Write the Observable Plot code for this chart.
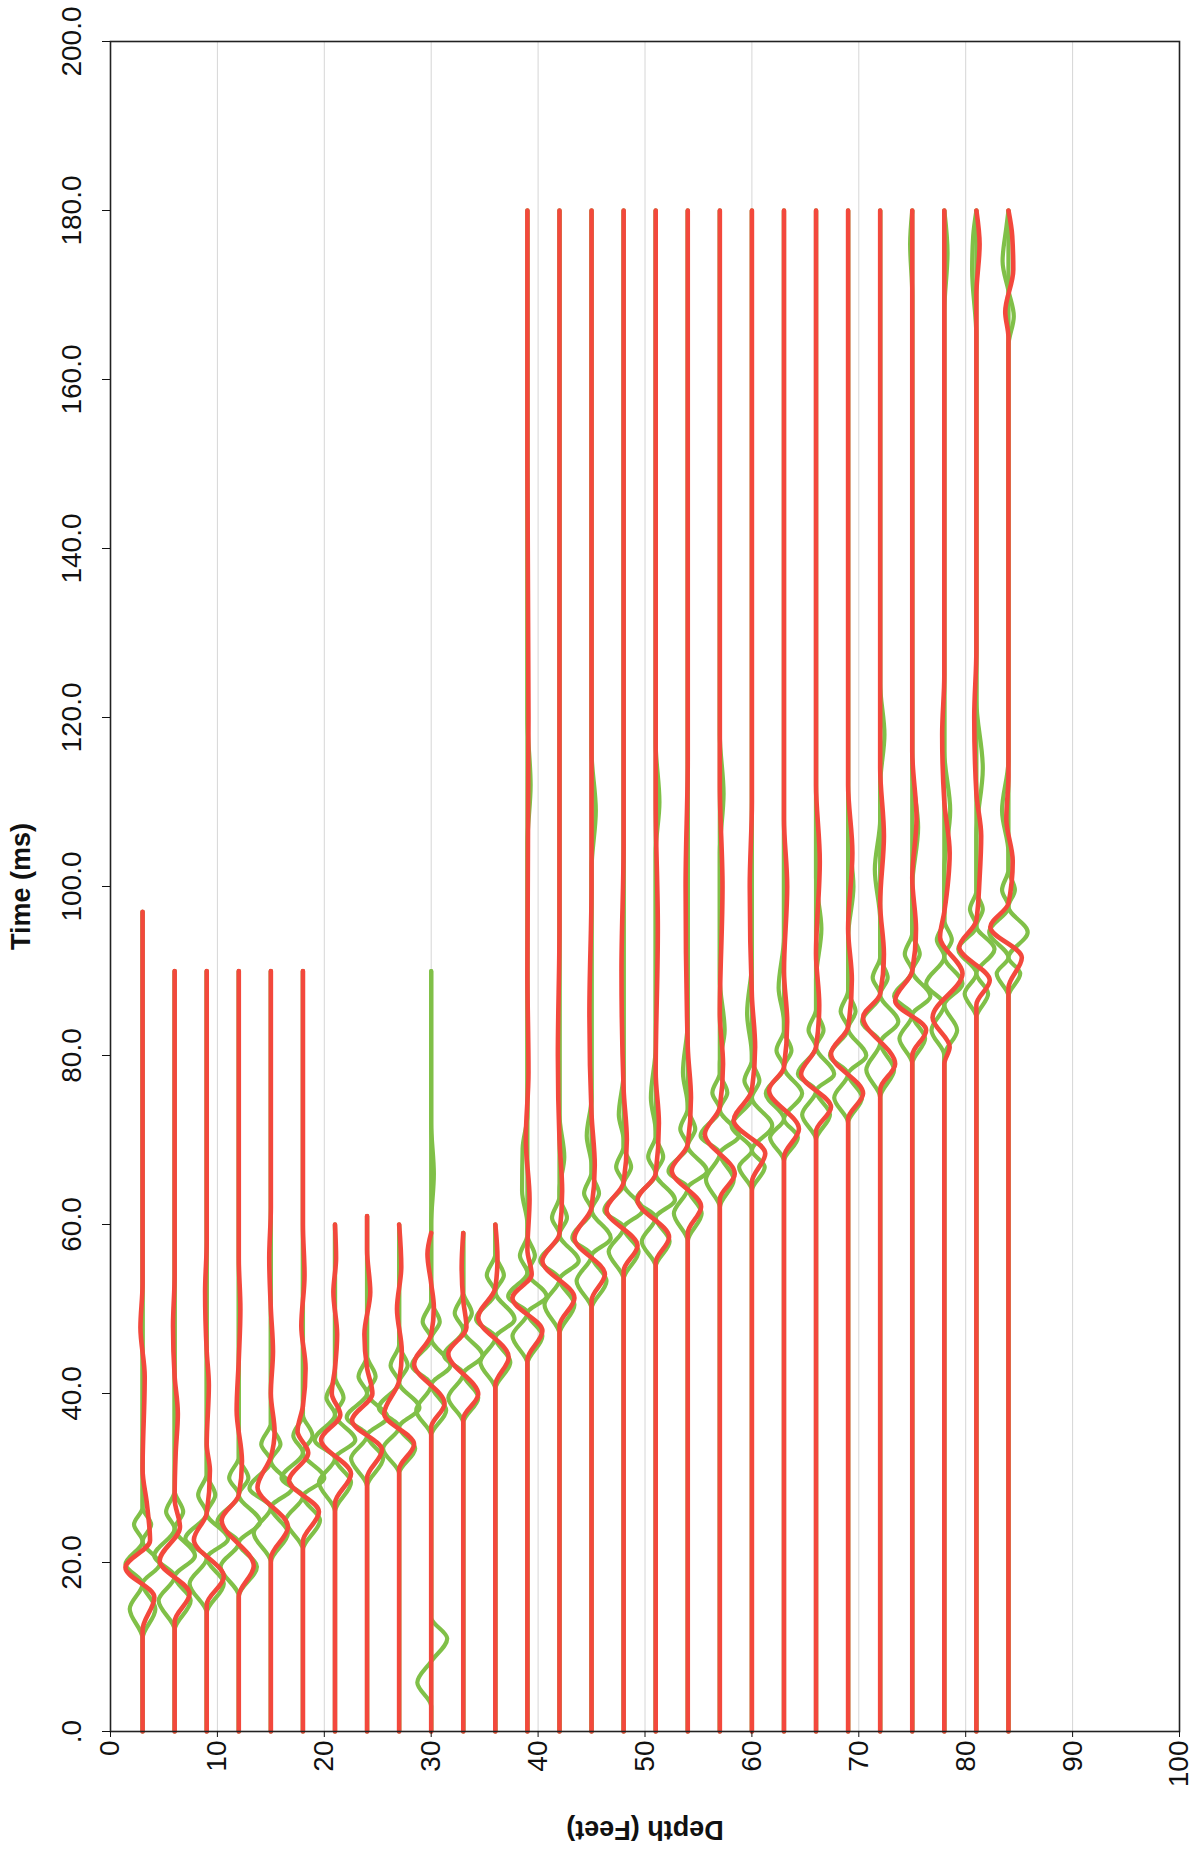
<!DOCTYPE html>
<html><head><meta charset="utf-8">
<script src="https://cdn.jsdelivr.net/npm/d3@7"></script>
<script src="https://cdn.jsdelivr.net/npm/@observablehq/plot@0.6"></script>
<style>html,body{margin:0;padding:0;background:#fff} #chart svg{display:block}</style>
</head><body><div id="chart"></div>
<script>
// ---- data ----
const xTicks = [0,10,20,30,40,50,60,70,80,90,100];
const yTicks = [0,20,40,60,80,100,120,140,160,180,200];
const yTickLabels = [".0","20.0","40.0","60.0","80.0","100.0","120.0","140.0","160.0","180.0","200.0"];

const depths = [3,6,9,12,15,18,21,24,27,30,33,36,39,42,45,48,51,54,57,60,63,66,69,72,75,78,81,84];
const redEnd   = [97,90,90,90,90,90,60,61,60,59,59,60,180,180,180,180,180,180,180,180,180,180,180,180,180,180,180,180];
const greenEnd = [97,90,90,90,90,90,60,61,60,90,59,60,180,180,180,180,180,180,180,180,180,180,180,180,180,180,180,180];

// red trace: [time ms, offset ft]
const redWave = [
  [[12,0],[15.9,1.1],[19.4,-1.6],[22.6,0.7],[27,0.4],[31,0],[42,0.2],[47.8,-0.2],[53,0]],
  [[13,0],[16.3,1.4],[20.2,-1.4],[24.2,0.5],[27.5,0],[33,0.1],[37.6,0.3],[42,0],[48,-0.15],[54,0]],
  [[15,0],[18.3,1.6],[22.7,-1.2],[25.8,0],[30.9,0.3],[34,0],[41,0.2],[45,0],[52,-0.15],[58,0]],
  [[16,0],[19.6,1.4],[25,-1.6],[28,0],[32,0.3],[38,-0.2],[44,0],[50,0.15],[56,0]],
  [[20.5,0],[24.2,1.6],[28.9,-1.25],[32.5,0],[35.5,0.35],[40,0],[45,0.2],[50,0],[56,-0.15],[62,0]],
  [[22.5,0],[26,1.5],[29.7,-1.3],[33,0.5],[35.5,-0.5],[38.5,0],[43,0.25],[48,-0.15],[54,0.15],[60,0]],
  [[27,0],[30.5,1.5],[34.5,-1.3],[37.5,0.5],[40,-0.3],[43,0],[47,0.2],[52,-0.15],[56,0.1]],
  [[30,0],[33.3,1.4],[36.8,-1.4],[40,0.5],[43,0],[47,-0.25],[52,0.3],[57,0]],
  [[31,0],[34,1.4],[37.6,-1.4],[41.5,0],[45,0.25],[50,-0.2],[55,0.2]],
  [[36,0],[38.8,1.25],[43.5,-1.6],[47,0],[50.2,0.25],[53,0],[56.5,-0.35]],
  [[37,0],[39.9,1.4],[44.7,-1.4],[47.8,0.3],[51,0],[55,-0.15]],
  [[41,0],[44.3,1.25],[49,-1.6],[52.5,0],[56,0.2]],
  [[44,0],[47.4,1.4],[51.3,-1.4],[54.1,0.4],[57,0],[63,0.2],[70,-0.15],[78,0.1],[90,0],[120,0.1],[150,0]],
  [[48,0],[51.3,1.4],[55.7,-1.6],[58.9,0],[64,0.25],[70,0],[80,-0.15],[95,0]],
  [[51,0],[54.1,1.25],[58.4,-1.6],[62,0],[67,0.3],[73,0],[85,-0.2],[100,0]],
  [[54.5,0],[57.5,1.3],[61.7,-1.6],[65,0],[70,0.3],[76,0],[90,-0.2],[105,0]],
  [[55.5,0],[58.5,1.25],[62.9,-1.7],[66,0],[72,0.3],[78,0],[95,0.2],[110,0]],
  [[59,0],[62.1,1.25],[66.4,-1.5],[69.5,0],[75,0.3],[81,0],[100,-0.2],[115,0]],
  [[63,0],[66,1.4],[70.7,-1.4],[73.9,0],[79,0.3],[85,0],[100,0.25],[112,0]],
  [[65,0],[68.4,1.25],[72.3,-1.7],[75.9,0],[81,0.3],[87,0],[100,-0.2],[110,0]],
  [[68,0],[71.3,1.4],[75.9,-1.4],[78.6,0],[84,0.3],[90,0],[100,0.3],[108,0]],
  [[71,0],[73.9,1.4],[77.8,-1.4],[81,0],[86,0.3],[92,0],[103,0.35],[112,0]],
  [[72.5,0],[75.5,1.4],[80.2,-1.6],[83.4,0],[89,0.35],[95,0],[104,0.4],[112,0]],
  [[76,0],[79,1.4],[84.5,-1.6],[87.3,0],[92,0.35],[98,0],[106,0.35],[114,0]],
  [[80,0],[83,1.3],[86.5,-1.6],[90,0],[95,0.35],[101,0],[108,0.4],[116,0]],
  [[79,0],[81,0.5],[84.5,-1.1],[89.7,1.7],[94,-0.4],[97,0],[104,0.5],[110,0],[118,-0.2],[125,0]],
  [[86,0],[88.9,1.25],[92.8,-1.6],[96,0],[101,0.3],[106,0.45],[111,0],[120,-0.2],[128,0],[170,0],[176,0.3]],
  [[88,0],[91.6,1.25],[95.2,-1.7],[98,0],[103,0.4],[108,-0.2],[113,0],[165,0],[168,-0.3],[173,0.45],[177,0.35]]
];

// green wavelet: [time ms, half-width ft] of the lens pairs
const greenLens = [
  [[11,0],[14.5,1.2],[17.5,0],[19.8,1.6],[22.5,0],[24.5,0.8],[26.5,0]],
  [[12,0],[15.5,1.5],[18.3,0],[20.8,1.9],[24,0],[26,0.8],[28.5,0]],
  [[14,0],[17.5,1.6],[20.5,0],[22.8,2.0],[25.8,0],[28,0.8],[30.5,0]],
  [[16,0],[19.5,1.7],[22.3,0],[24.8,2.0],[28,0],[30,0.9],[32.5,0]],
  [[20,0],[23.5,1.6],[26.5,0],[28.8,2.0],[32,0],[34,0.9],[36.5,0]],
  [[21.5,0],[25,1.6],[27.8,0],[30,2.0],[33,0],[35,0.9],[37.5,0]],
  [[26,0],[29.5,1.5],[32.3,0],[34.5,1.9],[37.5,0],[39.5,0.8],[42,0]],
  [[29,0],[32.3,1.5],[35,0],[37.2,1.9],[40,0],[42,0.8],[44.5,0]],
  [[30.5,0],[33.5,1.5],[36,0],[38.3,1.9],[41.3,0],[43.3,0.8],[45.8,0]],
  [[35,0],[38,1.4],[41,0],[43.3,1.8],[46.5,0],[48.5,0.8],[51,0]],
  [[36.5,0],[39.5,1.4],[42.3,0],[44.5,1.8],[47.5,0],[49.5,0.8],[52,0]],
  [[40.5,0],[43.7,1.4],[46.6,0],[48.8,1.8],[52,0],[54,0.8],[56.5,0]],
  [[43.5,0],[46.8,1.4],[49.5,0],[51.5,1.8],[54.3,0],[56.3,0.7],[58.8,0]],
  [[47,0],[50.5,1.4],[53.5,0],[55.7,1.8],[58.8,0],[60.8,0.7],[63.3,0]],
  [[50,0],[53.3,1.4],[56.3,0],[58.4,1.8],[61.7,0],[63.7,0.7],[66.2,0]],
  [[53.5,0],[56.8,1.4],[59.6,0],[61.7,1.8],[64.8,0],[66.8,0.7],[69.3,0]],
  [[55,0],[58,1.3],[60.8,0],[62.9,1.8],[66,0],[68,0.7],[70.5,0]],
  [[58,0],[61.3,1.3],[64.3,0],[66.3,1.8],[69.3,0],[71.3,0.7],[73.8,0]],
  [[62,0],[65.3,1.3],[68.4,0],[70.5,1.8],[73.6,0],[75.6,0.7],[78,0]],
  [[64,0],[66.8,1.2],[68.8,0],[71.7,1.9],[75,0],[77,0.7],[79.5,0]],
  [[67.5,0],[70.3,1.3],[72.5,0],[75.5,1.7],[78.6,0],[80.6,0.7],[83,0]],
  [[70,0],[73,1.3],[75.8,0],[77.8,1.7],[81,0],[83,0.7],[85.5,0]],
  [[72,0],[75,1.3],[77.8,0],[80,1.7],[83.2,0],[85.2,0.7],[87.7,0]],
  [[75,0],[78.3,1.3],[81.5,0],[84,1.7],[87.2,0],[89.2,0.7],[91.7,0]],
  [[79,0],[82,1.2],[84.8,0],[87,1.7],[90,0],[92,0.7],[94.5,0]],
  [[80,0],[83,1.2],[86,0],[88.5,1.7],[91.7,0],[93.7,0.7],[96,0]],
  [[84.5,0],[87.3,1.1],[89.7,0],[92.6,1.7],[95.3,0],[97.3,0.6],[99.5,0]],
  [[87,0],[89.7,1.1],[91.6,0],[94.6,1.8],[97.6,0],[99.6,0.6],[102,0]]
];

// green one-sided wiggles: [time ms, offset ft]
const greenWig = [
  [],[],[],[],[],[],[],[],[],
  [[3,0],[5.8,-1.3],[8.3,0],[11,1.5],[13.5,0],[60,0],[66,0.25],[72,0]],
  [],[],
  [[60,0],[64,-0.5],[69,-0.45],[73,0],[105,0],[112,0.3],[120,0]],
  [[64,0],[68,0.45],[73,0]],
  [[67,0],[70.5,-0.45],[75,0],[102,0],[109,0.4],[116,0]],
  [[70,0],[73,-0.45],[78,0]],
  [[71,0],[75,-0.45],[81,0],[104,0],[110,0.35],[117,0]],
  [[74,0],[78,-0.45],[84,0]],
  [[79,0],[83,0.45],[89,0],[104,0],[111,0.35],[118,0]],
  [[80,0],[85,-0.45],[91,0]],
  [[84,0],[88,-0.5],[94,0]],
  [[89,0],[95,0.5],[101,0]],
  [[94,0],[100,0.5],[107,0]],
  [[96,0],[102,-0.5],[108,0],[112,0],[118,0.4],[124,0]],
  [[100,0],[107,0.55],[114,0],[170,0],[176,-0.2]],
  [[102,0],[109,0.55],[116,0],[168,0],[175,0.3]],
  [[106,0],[114,0.6],[122,0],[165,0],[173,-0.4],[177,-0.3]],
  [[104,0],[109,-0.6],[115,0],[164,0],[167.5,0.5],[170.5,0],[174,-0.55],[178,-0.2]]
];

// ---- build line rows through the scales ----
const greenRows = [], redRows = [];
depths.forEach((d, i) => {
  const a = [[0,0], ...greenLens[i], ...greenWig[i], [greenEnd[i],0]].sort((p,q)=>p[0]-q[0]);
  const b = [[0,0], ...greenLens[i].map(([t,w]) => [t,-w]), [greenEnd[i],0]];
  a.forEach(([t,dx]) => greenRows.push({id:"ga"+d, depth:d+dx, time:t}));
  b.forEach(([t,dx]) => greenRows.push({id:"gb"+d, depth:d+dx, time:t}));
  const r = [[0,0], ...redWave[i], [redEnd[i],0]];
  r.forEach(([t,dx]) => redRows.push({id:"r"+d, depth:d+dx, time:t}));
});

const chart = Plot.plot({
  width: 1196,
  height: 1856,
  marginLeft: 110,
  marginRight: 17,
  marginTop: 41,
  marginBottom: 125,
  style: {fontFamily: "'Liberation Sans', Arial, sans-serif", background: "#fff", color: "#111"},
  x: {domain: [0,100]},
  y: {domain: [0,200]},
  marks: [
    Plot.gridX(xTicks.filter(v => v > 0 && v < 100), {stroke: "#d6d6d6", strokeOpacity: 1, strokeWidth: 1}),
    Plot.line(greenRows, {x: "depth", y: "time", z: "id", stroke: "#80c048", strokeWidth: 4.2, curve: "monotone-y", strokeLinejoin: "round", strokeLinecap: "round"}),
    Plot.line(redRows, {x: "depth", y: "time", z: "id", stroke: "#f3483c", strokeWidth: 4.6, curve: "monotone-y", strokeLinejoin: "round", strokeLinecap: "round"}),
    Plot.frame({stroke: "#222", strokeWidth: 1.6}),
    Plot.axisX({ticks: xTicks, tickSize: 6, tickPadding: 3, tickRotate: -90, fontSize: 28, label: null, tickFormat: d => String(d)}),
    Plot.axisY({ticks: yTicks, tickSize: 8, tickPadding: 22, tickRotate: -90, fontSize: 28, label: null, tickFormat: d => yTickLabels[yTicks.indexOf(d)]}),
    Plot.text(["Time (ms)"], {text: d => d, frameAnchor: "left", dx: -89, rotate: -90, fontSize: 27, fontWeight: "bold", lineAnchor: "middle", textAnchor: "middle"}),
    Plot.text(["Depth (Feet)"], {text: d => d, frameAnchor: "bottom", dy: 98, rotate: 180, fontSize: 27, fontWeight: "bold", lineAnchor: "middle", textAnchor: "middle"})
  ]
});
document.getElementById("chart").appendChild(chart);
</script>
</body></html>
